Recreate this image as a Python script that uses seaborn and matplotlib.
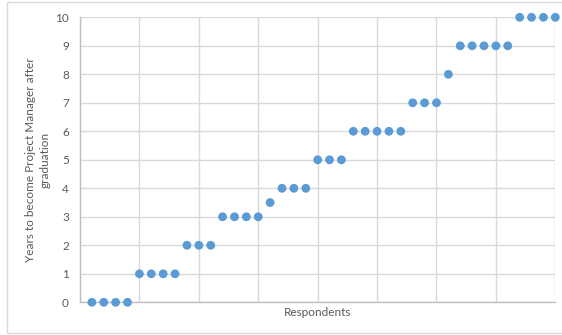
import matplotlib
matplotlib.use("Agg")
import matplotlib.pyplot as plt
from matplotlib.patches import Rectangle
import seaborn as sns
import pandas as pd

# Years each respondent took to become a project manager after graduation
respondents = list(range(1, 41))
years = [0, 0, 0, 0,
         1, 1, 1, 1,
         2, 2, 2,
         3, 3, 3, 3,
         3.5,
         4, 4, 4,
         5, 5, 5,
         6, 6, 6, 6, 6,
         7, 7, 7,
         8,
         9, 9, 9, 9, 9,
         10, 10, 10, 10]
y_ticks = [0, 1, 2, 3, 4, 5, 6, 7, 8, 9, 10]
x_grid = [0, 5, 10, 15, 20, 25, 30, 35, 40]

df = pd.DataFrame({"Respondent": respondents, "Years": years})

sns.set_theme(style="white")
plt.rcParams["font.family"] = ["Lato", "DejaVu Sans"]

text_color = "#595959"
grid_color = "#d9d9d9"
axis_color = "#bfbfbf"

fig = plt.figure(figsize=(5.62, 3.35), dpi=100)
ax = fig.add_axes([80 / 562, 1 - 302.3 / 335, (555.3 - 80) / 562, (302.3 - 17.3) / 335])

sns.scatterplot(data=df, x="Respondent", y="Years", ax=ax, color="#5b9bd5",
                s=40, edgecolor="none", linewidth=0, zorder=3, clip_on=False)

ax.set_xlim(0, 40)
ax.set_ylim(0, 10)
ax.set_xticks(x_grid)
ax.set_xticklabels([])
ax.set_yticks(y_ticks)
ax.set_yticklabels([str(t) for t in y_ticks], color=text_color, fontsize=8.5)
ax.tick_params(axis="both", length=0)
ax.tick_params(axis="y", pad=8)

ax.grid(True, color=grid_color, linewidth=1.0, zorder=0)
ax.set_axisbelow(True)
for side in ("top", "right"):
    ax.spines[side].set_visible(False)
for side in ("left", "bottom"):
    ax.spines[side].set_color(axis_color)
    ax.spines[side].set_linewidth(1.0)

ax.set_xlabel("Respondents", color=text_color, fontsize=8.5, labelpad=0)
ax.set_ylabel("Years to become Project Manager after\ngraduation", color=text_color,
              fontsize=8.5, labelpad=3, linespacing=1.45)

# Chart-area border
fig.patches.append(Rectangle((7 / 562, 2 / 335), 1.0, 331 / 335,
                             transform=fig.transFigure, fill=False,
                             edgecolor="#d9d9d9", linewidth=1.0))

fig.savefig("out.png", dpi=100)
